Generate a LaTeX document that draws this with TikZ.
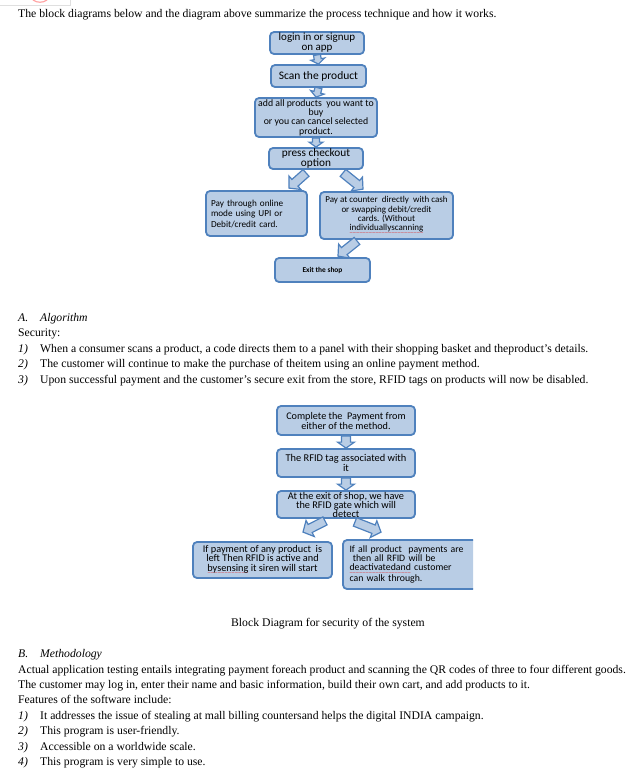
\documentclass[tikz,border=0pt]{standalone}
\usepackage{fontspec}
\setmainfont{Liberation Serif}
\newfontfamily\boxfnt{Carlito}
\newfontfamily\wavefont{DejaVu Sans}
\usetikzlibrary{calc}
\definecolor{bfill}{HTML}{B9CDE5}
\definecolor{bline}{HTML}{4F81BD}
\definecolor{wavered}{HTML}{E03030}
\newcommand\redwave[1]{\leavevmode\setbox0=\hbox{#1}\rlap{\raisebox{-3.4pt}{\hbox to \wd0{\color{wavered}\wavefont\fontsize{4.5}{5}\selectfont\xleaders\hbox{\kern-0.3pt\char"223C\kern-0.3pt}\hfil}}}\box0\relax}
\newcommand\apos{\char"0027\relax}
\newcommand{\barrow}[5]{%
  \coordinate (bh) at ($(#2)!#5!(#1)$);
  \draw[arr] ($(#1)!#3!90:(#2)$) -- ($(bh)!#3!90:(#2)$) -- ($(bh)!#4!90:(#2)$) -- (#2)
    -- ($(bh)!#4!-90:(#2)$) -- ($(bh)!#3!-90:(#2)$) -- ($(#1)!#3!-90:(#2)$) -- cycle;}
\tikzset{
  box/.style={draw=bline, fill=bfill, line width=1.8pt, rounded corners=4pt, inner sep=0pt, align=center},
  arr/.style={draw=bline, fill=bfill, line width=1.2pt, line join=miter},
  body/.style={anchor=base west, inner sep=0pt, font=\fontsize{11.7}{13}\selectfont},
}
\begin{document}
\begin{tikzpicture}[x=1pt,y=-1pt]
\useasboundingbox (0,0) rectangle (639,774);
% top-left artifacts
\draw[gray!25, line width=0.8pt] (70,0) -- (70,5) -- (0,5);
\draw[red!35, line width=1.2pt] (33,0) .. controls (37,3) and (43,3) .. (47,0);

% body text
\node[body] (t0) at (18,17) {The block diagrams below and the diagram above summarize the process technique and how it works.};

% ---------- diagram 1 ----------
\node[box, minimum width=94pt, minimum height=22pt, font=\boxfnt\fontsize{11}{10}\selectfont] (b1) at (317,43) {login in or signup\\on app};
\node[box, minimum width=95pt, minimum height=22pt, font=\boxfnt\fontsize{11.5}{10}\selectfont] (b2) at (318.5,76) {Scan the product};
\node[box, minimum width=122pt, minimum height=39pt, font=\boxfnt\fontsize{9.8}{9.3}\selectfont] (b3) at (316,117.5) {add all products\ \ you want to\\buy\\or you can cancel selected\\product.};
\node[box, minimum width=94pt, minimum height=21pt, font=\boxfnt\fontsize{11.3}{10}\selectfont] (b4) at (316,158.5) {press checkout\\option};
\node[box, minimum width=101pt, minimum height=45pt, text width=91pt, align=left, font=\boxfnt\fontsize{9.2}{10.5}\selectfont] (pl) at (256.5,213.5) {Pay through online\\mode using UPI or\\Debit/credit card.};
\node[box, minimum width=133pt, minimum height=47pt, font=\boxfnt\fontsize{9}{9.3}\selectfont] (pr) at (386.5,215.5) {Pay at counter\ \ directly\ \ with cash\\or swapping debit/credit\\cards. (Without\\\redwave{individuallyscanning}};
\node[box, minimum width=95pt, minimum height=24pt, font=\boxfnt\bfseries\fontsize{7.4}{9}\selectfont] (ex) at (322.5,270) {Exit the shop};

\barrow{b1.south}{b2.north}{3.5pt}{7pt}{5pt}
\barrow{b2.south}{b3.north}{3.5pt}{7pt}{5pt}
\barrow{b3.south}{b4.north}{3.5pt}{7pt}{5pt}
\coordinate (l1s) at ($(b4.south)+(-10,3)$);
\coordinate (l1e) at ($(pl.north)+(32.5,-2)$);
\coordinate (r1s) at ($(b4.south)+(27,3)$);
\coordinate (r1e) at ($(pr.north)+(-23.5,-2)$);
\coordinate (x1s) at ($(pr.south)+(-29.5,1)$);
\coordinate (x1e) at ($(ex.north)+(15.5,-1)$);
\barrow{l1s}{l1e}{4.5pt}{9pt}{8pt}
\barrow{r1s}{r1e}{4.5pt}{9pt}{8pt}
\barrow{x1s}{x1e}{4.5pt}{9pt}{8pt}

% section A
\node[body] (hA) at (18,321) {\textit{A.}};
\node[body] (hAt) at (40,321) {\textit{Algorithm}};
\node[body] (sec) at (18,336) {Security:};
\node[body] (n1) at (18,352) {\textit{1)}};
\node[body] (l1) at (40,352) {When a consumer scans a product, a code directs them to a panel with their shopping basket and theproduct\apos s details.};
\node[body] (n2) at (18,367) {\textit{2)}};
\node[body] (l2) at (40,367) {The customer will continue to make the purchase of theitem using an online payment method.};
\node[body] (n3) at (18,383) {\textit{3)}};
\node[body] (l3) at (40,383) {Upon successful payment and the customer\apos s secure exit from the store, RFID tags on products will now be disabled.};

% ---------- diagram 2 ----------
\node[box, minimum width=138pt, minimum height=29pt, font=\boxfnt\fontsize{10.2}{10}\selectfont] (ca) at (346,420.5) {Complete the\ \ Payment from\\either of the method.};
\node[box, minimum width=138pt, minimum height=28pt, font=\boxfnt\fontsize{10.4}{8.3}\selectfont] (cb) at (346,463) {The RFID tag associated with\\it};
\node[box, minimum width=138pt, minimum height=27pt, font=\boxfnt\fontsize{10.3}{9}\selectfont] (cc) at (346,504.5) {At the exit of shop, we have\\the RFID gate which will\\detect};
\node[box, minimum width=139pt, minimum height=36pt, font=\boxfnt\fontsize{10.3}{9.2}\selectfont] (dl) at (262.5,560) {If payment of any product\ \ is\\left Then RFID is active and\\\redwave{bysensing} it siren will start};
\begin{scope}
\clip (0,0) rectangle (473,774);
\node[box, minimum width=135pt, minimum height=49pt, text width=122pt, align=left, font=\boxfnt\fontsize{9.8}{9.2}\selectfont] (dr) at (410.5,564.5) {If all product\ \ payments are\\\ then all RFID will be\\\redwave{deactivatedand} customer\\can walk through.};
\end{scope}

\barrow{ca.south}{cb.north}{4.5pt}{8.5pt}{6pt}
\barrow{cb.south}{cc.north}{4.5pt}{8.5pt}{6pt}
\coordinate (l2s) at ($(cc.south)+(-21,2)$);
\coordinate (l2e) at ($(dl.north)+(40.5,-9)$);
\coordinate (r2s) at ($(cc.south)+(9,3)$);
\coordinate (r2e) at ($(dr.north)+(-29.5,-7)$);
\barrow{l2s}{l2e}{4.5pt}{9pt}{8pt}
\barrow{r2s}{r2e}{4.5pt}{9pt}{8pt}

\node[anchor=base, inner sep=0pt, font=\fontsize{11.7}{13}\selectfont] (cap) at (328,626) {Block Diagram for security of the system};

% section B
\node[body] (hB) at (18,657) {\textit{B.}};
\node[body] (hBt) at (40,657) {\textit{Methodology}};
\node[body] (m1) at (18,673) {Actual application testing entails integrating payment foreach product and scanning the QR codes of three to four different goods.};
\node[body] (m2) at (18,688) {The customer may log in, enter their name and basic information, build their own cart, and add products to it.};
\node[body] (m3) at (18,703) {Features of the software include:};
\node[body] (f1n) at (18,719) {\textit{1)}};
\node[body] (f1) at (40,719) {It addresses the issue of stealing at mall billing countersand helps the digital INDIA campaign.};
\node[body] (f2n) at (18,734) {\textit{2)}};
\node[body] (f2) at (40,734) {This program is user-friendly.};
\node[body] (f3n) at (18,750) {\textit{3)}};
\node[body] (f3) at (40,750) {Accessible on a worldwide scale.};
\node[body] (f4n) at (18,765) {\textit{4)}};
\node[body] (f4) at (40,765) {This program is very simple to use.};
\end{tikzpicture}
\end{document}
